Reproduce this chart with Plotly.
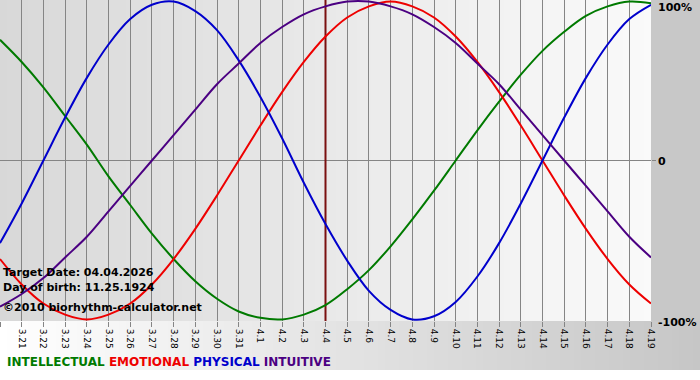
import plotly.graph_objects as go

# ---- data ----
dates = ["3.20", "3.21", "3.22", "3.23", "3.24", "3.25", "3.26", "3.27", "3.28", "3.29",
         "3.30", "3.31", "4.1", "4.2", "4.3", "4.4", "4.5", "4.6", "4.7", "4.8",
         "4.9", "4.10", "4.11", "4.12", "4.13", "4.14", "4.15", "4.16", "4.17", "4.18", "4.19"]

intellectual = [0.76, 0.62, 0.46, 0.28, 0.10, -0.10, -0.28, -0.46, -0.62, -0.76,
                -0.87, -0.95, -0.99, -1.00, -0.97, -0.91, -0.81, -0.69, -0.54, -0.37,
                -0.19, 0.00, 0.19, 0.37, 0.54, 0.69, 0.81, 0.91, 0.97, 1.00, 0.99]

emotional = [-0.62, -0.78, -0.90, -0.97, -1.00, -0.97, -0.90, -0.78, -0.62, -0.43,
             -0.22, 0.00, 0.22, 0.43, 0.62, 0.78, 0.90, 0.97, 1.00, 0.97,
             0.90, 0.78, 0.62, 0.43, 0.22, 0.00, -0.22, -0.43, -0.62, -0.78, -0.90]

physical = [-0.52, -0.27, 0.00, 0.27, 0.52, 0.73, 0.89, 0.98, 1.00, 0.94,
            0.82, 0.63, 0.40, 0.14, -0.14, -0.40, -0.63, -0.82, -0.94, -1.00,
            -0.98, -0.89, -0.73, -0.52, -0.27, 0.00, 0.27, 0.52, 0.73, 0.89, 0.98]

intuitive = [-0.92, -0.84, -0.74, -0.61, -0.48, -0.32, -0.16, 0.00, 0.16, 0.32,
             0.48, 0.61, 0.74, 0.84, 0.92, 0.97, 1.00, 1.00, 0.97, 0.92,
             0.84, 0.74, 0.61, 0.48, 0.32, 0.16, 0.00, -0.16, -0.32, -0.48, -0.61]

series_names = ["INTELLECTUAL", "EMOTIONAL", "PHYSICAL", "INTUITIVE"]
series_colors = ["#007a00", "#ee0000", "#0000cc", "#4b0082"]
series_values = [intellectual, emotional, physical, intuitive]

target_date = "4.4"
info_lines = ["Target Date: 04.04.2026", "Day of birth: 11.25.1924", "©2010 biorhythm-calculator.net"]
y_labels = ["100%", "0", "-100%"]
y_label_vals = [1, 0, -1]

# ---- geometry ----
W, H = 700, 380
ML, MR, MT, MB = 0, 49, 0, 59
PW, PH = W - ML - MR, H - MT - MB
FONT = "DejaVu Sans"
Y_RANGE = [-1.01, 1.01]

x_idx = list(range(len(dates)))

fig = go.Figure()

# target date marker line (drawn beneath the curves)
tx = dates.index(target_date)
fig.add_trace(go.Scatter(x=[tx, tx], y=Y_RANGE, mode="lines",
                         line=dict(color="#7a1010", width=2), hoverinfo="skip"))

for name, color, vals in zip(series_names, series_colors, series_values):
    fig.add_trace(go.Scatter(x=x_idx, y=vals, mode="lines", name=name,
                             line=dict(color=color, width=2, shape="spline", smoothing=1.0),
                             hoverinfo="skip"))

shapes = []
# plot-area gradient (dark left -> light right)
N = 93
for i in range(N):
    t = (i + 0.5) / N
    c = int(round(216 + (250 - 216) * t))
    shapes.append(dict(type="rect", xref="paper", yref="paper", x0=i / N, x1=(i + 1) / N + 0.002,
                       y0=0, y1=1, fillcolor=f"rgb({c},{c},{c})", line=dict(width=0), layer="below"))
# right column gray
shapes.append(dict(type="rect", xref="paper", yref="paper", x0=1, x1=W / PW + 0.01,
                   y0=0, y1=1.01, fillcolor="rgb(200,200,200)", line=dict(width=0), layer="below"))
# bottom band gradient (white left -> gray right)
NB = 100
yb0 = -(370 - PH) / PH
for i in range(NB):
    t = (i + 0.5) / NB
    c = int(round(255 + (198 - 255) * t))
    shapes.append(dict(type="rect", xref="paper", yref="paper",
                       x0=(W / PW) * i / NB, x1=(W / PW) * (i + 1) / NB + 0.002,
                       y0=yb0, y1=0, fillcolor=f"rgb({c},{c},{c})", line=dict(width=0), layer="below"))

annotations = []
info_px = [272.5, 287, 307]
for txt, ypx in zip(info_lines, info_px):
    annotations.append(dict(text=txt, xref="paper", yref="paper", x=1 / PW, y=(PH - ypx) / PH,
                            xanchor="left", yanchor="middle", showarrow=False,
                            font=dict(family=FONT, size=11, color="#000000", weight="bold")))

y_shift = [-5.5, -0.5, -3]
for txt, v, ys in zip(y_labels, y_label_vals, y_shift):
    annotations.append(dict(text=txt, xref="paper", yref="y", x=656 / PW, y=v, yshift=ys,
                            xanchor="left", yanchor="middle", showarrow=False,
                            font=dict(family=FONT, size=11, color="#000000", weight="bold")))

legend_html = " ".join(f'<span style="color:{c}">{n}</span>' for n, c in zip(series_names, series_colors))
annotations.append(dict(text=legend_html, xref="paper", yref="paper", x=5 / PW, y=(PH - 362) / PH,
                        xanchor="left", yanchor="middle", showarrow=False,
                        font=dict(family=FONT, size=12, weight="bold")))

fig.update_layout(
    width=W, height=H,
    margin=dict(l=ML, r=MR, t=MT, b=MB, pad=0, autoexpand=False),
    paper_bgcolor="#ffffff", plot_bgcolor="rgba(0,0,0,0)",
    showlegend=False, hovermode=False,
    shapes=shapes, annotations=annotations,
    xaxis=dict(range=[0, len(dates) - 1], tickmode="array", tickvals=x_idx, ticktext=dates,
               tickangle=90, showgrid=True, gridcolor="#858585", gridwidth=1,
               ticks="outside", ticklen=5, tickcolor="#858585", tickwidth=1,
               tickfont=dict(family=FONT, size=9, color="#000000"),
               showline=False, zeroline=False, fixedrange=True, automargin=False),
    yaxis=dict(range=Y_RANGE, side="right", showgrid=False,
               zeroline=True, zerolinecolor="#858585", zerolinewidth=1,
               tickvals=[0], ticks="outside", ticklen=4, tickcolor="#858585",
               showticklabels=False, showline=False, fixedrange=True, automargin=False),
)

fig.write_html("out.html", config={"displayModeBar": False, "staticPlot": True})
